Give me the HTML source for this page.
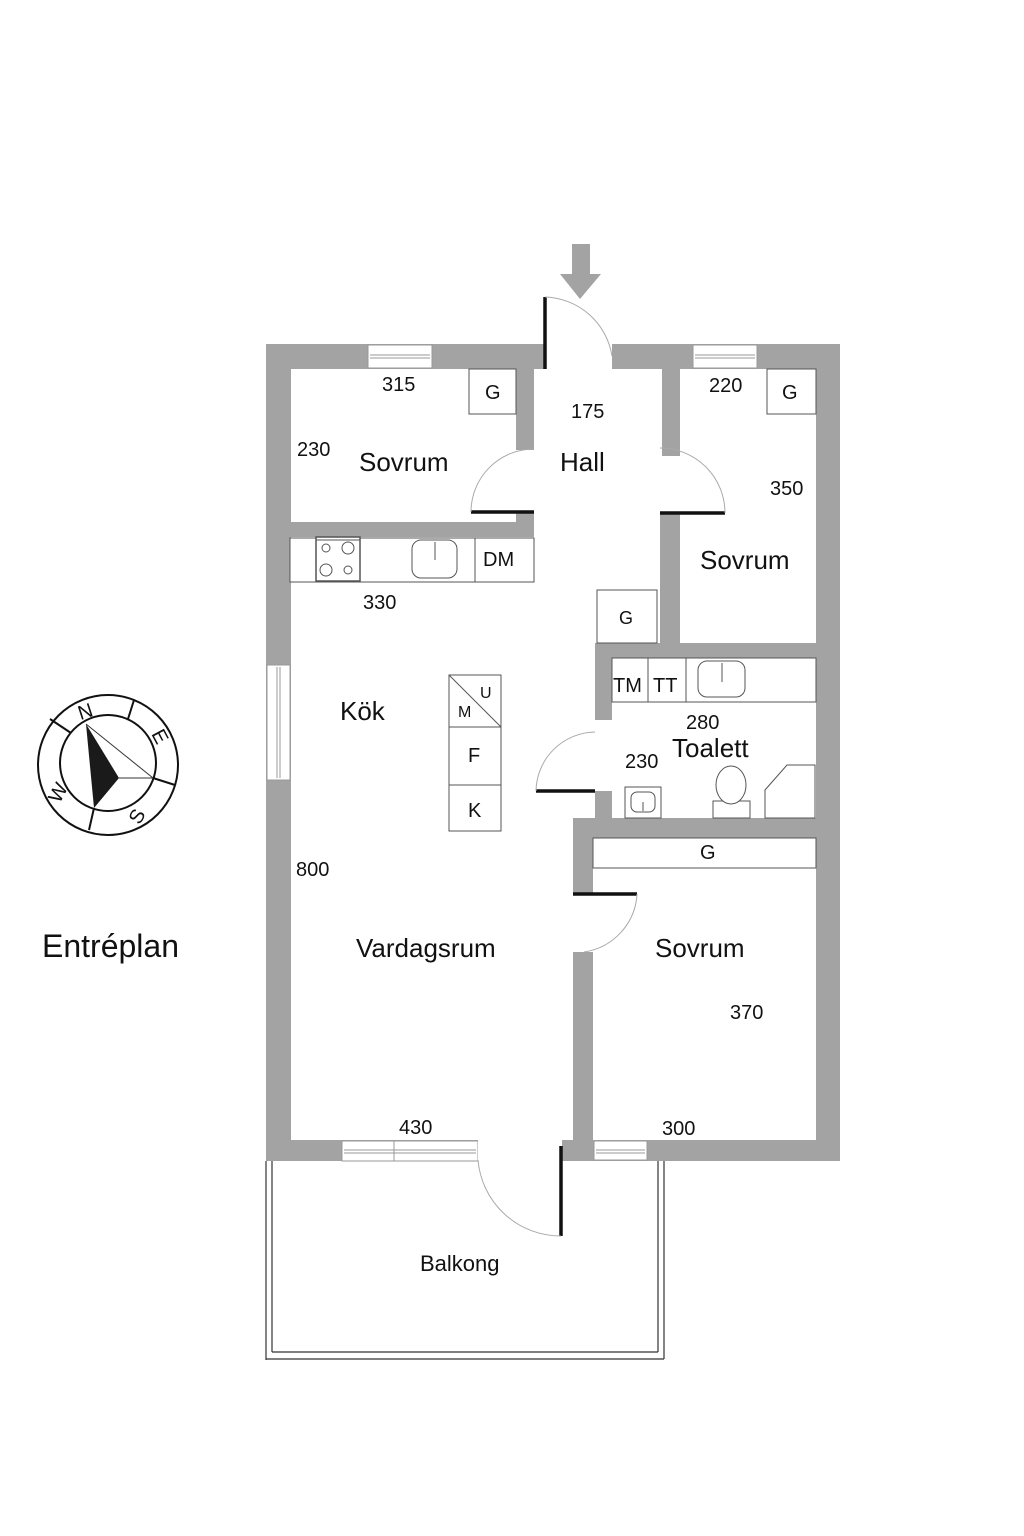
<!DOCTYPE html>
<html><head><meta charset="utf-8"><style>
html,body{margin:0;padding:0;background:#fff;}
svg{display:block;font-family:"Liberation Sans",sans-serif;}
</style></head><body>
<svg width="1024" height="1536" viewBox="0 0 1024 1536" xmlns="http://www.w3.org/2000/svg">
<g fill="#a3a3a3">
<!-- arrow -->
<rect x="572" y="244" width="18" height="30"/>
<polygon points="560,274 601,274 580,299"/>
<!-- top walls -->
<rect x="266" y="344" width="279" height="25"/>
<rect x="612" y="344" width="228" height="25"/>
<!-- outer left/right -->
<rect x="266" y="344" width="25" height="816"/>
<rect x="816" y="344" width="24" height="816"/>
<!-- bottom -->
<rect x="266" y="1140" width="574" height="21"/>
<!-- left bedroom internal -->
<rect x="516" y="368" width="18" height="82"/>
<rect x="290" y="522" width="244" height="15"/>
<rect x="516" y="512" width="18" height="25"/>
<!-- hall right -->
<rect x="662" y="368" width="18" height="88"/>
<rect x="660" y="513" width="20" height="145"/>
<rect x="595" y="643" width="245" height="15"/>
<rect x="595" y="643" width="17" height="77"/>
<rect x="595" y="791" width="17" height="30"/>
<rect x="573" y="818" width="267" height="20"/>
<rect x="573" y="818" width="20" height="76"/>
<rect x="573" y="952" width="20" height="190"/>
</g>
<!-- windows -->
<g fill="#fff" stroke="#999" stroke-width="1">
<rect x="368" y="345" width="64" height="23"/>
<rect x="693" y="345" width="64" height="23"/>
<rect x="267" y="665" width="23" height="115"/>
<rect x="342" y="1141" width="52" height="20"/>
<rect x="394" y="1141" width="84" height="20"/>
<rect x="594" y="1141" width="53" height="19"/>
</g>
<g stroke="#999" stroke-width="1" fill="none">
<line x1="370" y1="355" x2="430" y2="355"/><line x1="370" y1="358" x2="430" y2="358"/>
<line x1="695" y1="355" x2="755" y2="355"/><line x1="695" y1="358" x2="755" y2="358"/>
<line x1="277" y1="667" x2="277" y2="778"/><line x1="280" y1="667" x2="280" y2="778"/>
<line x1="344" y1="1150" x2="476" y2="1150"/><line x1="344" y1="1153" x2="476" y2="1153"/>
<line x1="596" y1="1150" x2="645" y2="1150"/><line x1="596" y1="1153" x2="645" y2="1153"/>
</g>
<rect x="478" y="1140" width="84" height="22" fill="#fff"/>
<!-- balcony -->
<g fill="none" stroke="#333" stroke-width="1.2">
<line x1="266" y1="1161" x2="266" y2="1360"/><line x1="272" y1="1161" x2="272" y2="1352"/>
<line x1="658" y1="1161" x2="658" y2="1352"/><line x1="664" y1="1161" x2="664" y2="1359"/>
<line x1="272" y1="1352" x2="658" y2="1352"/><line x1="266" y1="1359" x2="664" y2="1359"/>
</g>
<!-- doors -->
<g stroke="#111" stroke-width="3.5">
<line x1="545" y1="297" x2="545" y2="369"/>
<line x1="471" y1="512" x2="534" y2="512"/>
<line x1="660" y1="513" x2="725" y2="513"/>
<line x1="536" y1="791" x2="595" y2="791"/>
<line x1="573" y1="894" x2="637" y2="894"/>
<line x1="561" y1="1146" x2="561" y2="1236"/>
</g>
<g fill="none" stroke="#aaa" stroke-width="1">
<path d="M545,297 A70,70 0 0 1 612,356"/>
<path d="M471,512 A63,63 0 0 1 534,449"/>
<path d="M725,513 A65,65 0 0 0 660,448"/>
<path d="M536,791 A60,60 0 0 1 595,732"/>
<path d="M637,894 A62,62 0 0 1 584,952"/>
<path d="M478,1160 A83,83 0 0 0 561,1236"/>
</g>
<!-- furniture -->
<g fill="#fff" stroke="#555" stroke-width="1">
<rect x="469" y="369" width="47" height="45"/>
<rect x="767" y="369" width="49" height="45"/>
<rect x="290" y="538" width="244" height="44"/>
<rect x="475" y="538" width="59" height="44"/>
<rect x="316" y="537" width="44" height="44" stroke-width="1.5"/>
<rect x="412" y="540" width="45" height="38" rx="9"/>
<rect x="597" y="590" width="60" height="53"/>
<rect x="449" y="675" width="52" height="156"/>
<rect x="612" y="658" width="204" height="44"/>
<rect x="612" y="658" width="36" height="44"/>
<rect x="648" y="658" width="38" height="44"/>
<rect x="698" y="661" width="47" height="36" rx="9"/>
<rect x="625" y="787" width="36" height="31"/>
<rect x="631" y="792" width="24" height="20" rx="6"/>
<rect x="713" y="801" width="37" height="17"/>
<ellipse cx="731" cy="785" rx="15" ry="19"/>
<polygon points="765,790 787,765 815,765 815,818 765,818"/>
<rect x="593" y="838" width="223" height="30"/>
</g>
<g fill="none" stroke="#555" stroke-width="1">
<line x1="449" y1="727" x2="501" y2="727"/><line x1="449" y1="785" x2="501" y2="785"/>
<line x1="449" y1="675" x2="501" y2="727"/>
<line x1="435" y1="542" x2="435" y2="560"/><line x1="722" y1="663" x2="722" y2="682"/>
<line x1="643" y1="802" x2="643" y2="811"/>
<circle cx="326" cy="548" r="4"/><circle cx="348" cy="548" r="6"/>
<circle cx="326" cy="570" r="6"/><circle cx="348" cy="570" r="4"/>
<line x1="316" y1="540" x2="360" y2="540"/>
</g>
<!-- labels -->
<g fill="#111" font-size="20">
<text x="382" y="391">315</text><text x="571" y="418">175</text>
<text x="709" y="392">220</text><text x="297" y="456">230</text>
<text x="770" y="495">350</text><text x="363" y="609">330</text>
<text x="686" y="729">280</text><text x="625" y="768">230</text>
<text x="296" y="876">800</text><text x="730" y="1019">370</text>
<text x="399" y="1134">430</text><text x="662" y="1135">300</text>
<text x="485" y="399">G</text><text x="782" y="399">G</text>
<text x="483" y="566">DM</text><text x="619" y="624" font-size="18">G</text>
<text x="613" y="692">TM</text><text x="653" y="692">TT</text>
<text x="700" y="859">G</text>
<text x="468" y="762">F</text><text x="468" y="817">K</text>
<text x="480" y="698" font-size="16">U</text><text x="458" y="717" font-size="16">M</text>
</g>
<g fill="#111" font-size="26">
<text x="359" y="471">Sovrum</text><text x="560" y="471">Hall</text>
<text x="700" y="569">Sovrum</text><text x="340" y="720">Kök</text>
<text x="672" y="757">Toalett</text><text x="356" y="957">Vardagsrum</text>
<text x="655" y="957">Sovrum</text>
</g>
<text x="420" y="1271" font-size="22" fill="#111">Balkong</text>
<text x="42" y="957" font-size="32" fill="#111">Entréplan</text>
<!-- compass -->
<g fill="none" stroke="#111" stroke-width="2">
<circle cx="108" cy="765" r="70"/><circle cx="108" cy="763" r="48"/>
<line x1="71" y1="733" x2="50" y2="719"/>
<line x1="128" y1="719" x2="134" y2="700"/>
<line x1="153" y1="778" x2="175" y2="785"/>
<line x1="94" y1="808" x2="89" y2="830"/>
</g>
<polygon points="86,724 119,778 94,808" fill="#1a1a1a"/>
<g stroke="#333" stroke-width="1"><line x1="86" y1="724" x2="153" y2="778"/><line x1="119" y1="778" x2="153" y2="778"/></g>
<g fill="#111" font-size="20">
<text x="78" y="718" transform="rotate(-18 86 711)">N</text>
<text x="152" y="744" transform="rotate(62 160 738)">E</text>
<text x="130" y="823" transform="rotate(-60 137 816)">S</text>
<text x="48" y="799" transform="rotate(-62 58 792)">W</text>
</g>
</svg>
</body></html>
